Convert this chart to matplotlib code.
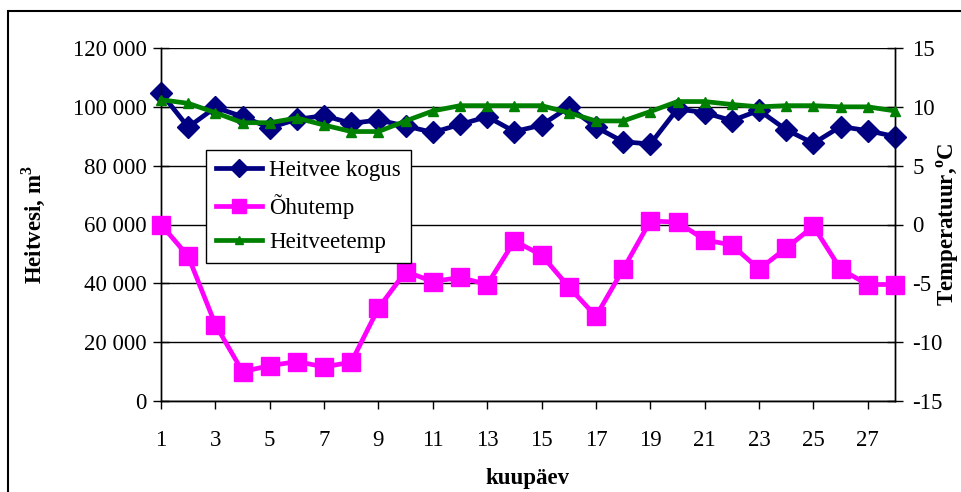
import matplotlib
matplotlib.use("Agg")
import matplotlib.pyplot as plt
from matplotlib.patches import Rectangle
from matplotlib.ticker import FuncFormatter, MultipleLocator

plt.rcParams["font.family"] = ["Liberation Serif", "DejaVu Serif"]
plt.rcParams["mathtext.fontset"] = "custom"
plt.rcParams["mathtext.rm"] = "Liberation Serif"
plt.rcParams["mathtext.bf"] = "Liberation Serif:bold"
plt.rcParams["axes.unicode_minus"] = False

# Daily values
days = list(range(1, 29))
heitvee_kogus = [104700, 93100, 99800, 96650, 92900, 95750, 97000, 94400, 95500, 93500,
                 91300, 94000, 96650, 91600, 93800, 99900, 93100, 88150, 87350, 99300,
                 98000, 95300, 98800, 92200, 87600, 93300, 91900, 89900]
ohutemp = [0.0, -2.7, -8.5, -12.5, -12.0, -11.65, -12.1, -11.7, -7.1, -4.0,
           -4.85, -4.5, -5.1, -1.4, -2.6, -5.3, -7.8, -3.8, 0.3, 0.2,
           -1.3, -1.75, -3.8, -2.0, -0.15, -3.8, -5.1, -5.1]
heitveetemp = [10.6, 10.3, 9.5, 8.65, 8.65, 9.05, 8.45, 7.9, 7.9, 8.8,
               9.65, 10.1, 10.1, 10.1, 10.1, 9.5, 8.8, 8.8, 9.6, 10.45,
               10.45, 10.2, 10.0, 10.1, 10.1, 10.0, 10.0, 9.65]
x_ticks = list(range(1, 28, 2))

FS = 16.5
W, H = 961, 492
fig = plt.figure(figsize=(W / 100, H / 100), dpi=100)
ax = fig.add_axes([161 / W, 1 - 401 / H, (895 - 161) / W, (401 - 48) / H])
ax2 = ax.twinx()

navy, magenta, green = "#000080", "#FF00FF", "#008000"

l1, = ax.plot(days, heitvee_kogus, color=navy, lw=3.4, marker="D", ms=11.5,
              mec=navy, mfc=navy, label="Heitvee kogus", zorder=3, clip_on=False)
l2, = ax2.plot(days, ohutemp, color=magenta, lw=3.4, marker="s", ms=13,
               mec=magenta, mfc=magenta, label="Õhutemp", zorder=3, clip_on=False)
l3, = ax2.plot(days, heitveetemp, color=green, lw=3.4, marker="^", ms=7.5,
               mec=green, mfc=green, label="Heitveetemp", zorder=4, clip_on=False)

ax.set_xlim(1, 28)
ax.set_ylim(0, 120000)
ax2.set_ylim(-15, 15)
ax.yaxis.set_major_locator(MultipleLocator(20000))
ax2.yaxis.set_major_locator(MultipleLocator(5))
ax.set_xticks(x_ticks)
ax.yaxis.set_major_formatter(
    FuncFormatter(lambda v, p: f"{int(v):,}".replace(",", " ")))
ax2.yaxis.set_major_formatter(FuncFormatter(lambda v, p: f"{int(round(v))}"))

ax.grid(axis="y", color="black", lw=1.0)
ax.grid(axis="x", visible=False)
ax.set_axisbelow(True)

for a in (ax, ax2):
    a.spines["top"].set_visible(False)
    for s in a.spines.values():
        s.set_color("black")
        s.set_linewidth(1.0)

ax.tick_params(axis="y", direction="inout", length=11, width=1, pad=5, labelsize=FS)
ax2.tick_params(axis="y", direction="inout", length=11, width=1, pad=7, labelsize=FS)
ax.tick_params(axis="x", direction="out", length=6, width=1, pad=15, labelsize=FS)

ax.set_ylabel(r"Heitvesi, m$^{\mathbf{3}}$", fontsize=FS, fontweight="bold")
ax.yaxis.set_label_coords(-114 / 734, 0.5)
ax2.set_ylabel(r"Temperatuur,$^{\mathbf{o}}$C", fontsize=FS, fontweight="bold")
ax2.yaxis.set_label_coords((935 - 161) / 734, 0.5)
ax.set_xlabel("kuupäev", fontsize=FS, fontweight="bold", labelpad=12)

leg = fig.legend(handles=[l1, l2, l3], loc="upper left",
                 bbox_to_anchor=(206 / W, 1 - 150 / H), borderaxespad=0,
                 fontsize=FS, frameon=True, fancybox=False, framealpha=1,
                 edgecolor="black", handlelength=2.0, handletextpad=0.3,
                 labelspacing=0.55, borderpad=0.45, markerscale=0.8)
leg.get_frame().set_linewidth(1.0)

# Outer chart border
fig.patches.append(Rectangle((8 / W, -0.1), 1.2, 1 - 11 / H + 0.1, transform=fig.transFigure,
                             fill=False, edgecolor="black", lw=1.5, clip_on=False))

fig.savefig("out.png", dpi=100)
